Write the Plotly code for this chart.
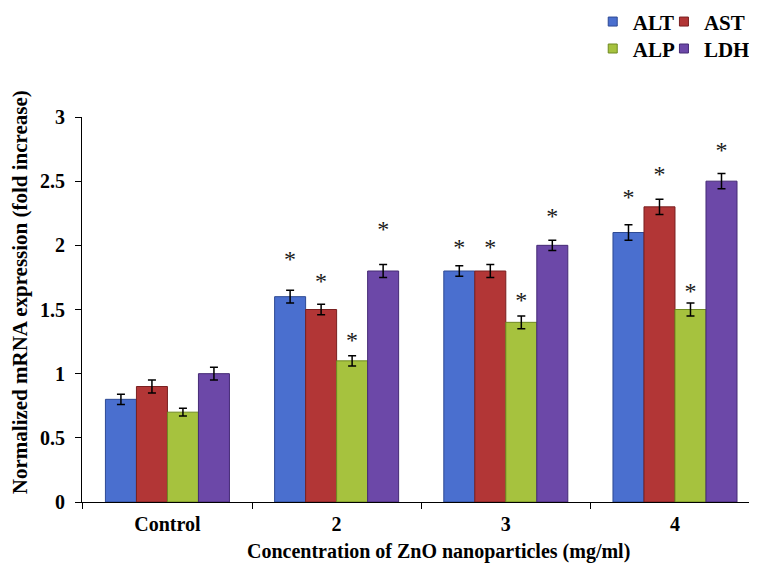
import plotly.graph_objects as go

categories = ["Control", "2", "3", "4"]
series_names = ["ALT", "AST", "ALP", "LDH"]
values = {
    "ALT": [0.8, 1.6, 1.8, 2.1],
    "AST": [0.9, 1.5, 1.8, 2.3],
    "ALP": [0.7, 1.1, 1.4, 1.5],
    "LDH": [1.0, 1.8, 2.0, 2.5],
}
errors = {
    "ALT": [0.04, 0.05, 0.04, 0.06],
    "AST": [0.05, 0.04, 0.05, 0.06],
    "ALP": [0.03, 0.04, 0.05, 0.05],
    "LDH": [0.05, 0.05, 0.04, 0.06],
}
# significance marker levels (None = no marker)
star_levels = {
    "ALT": [None, 1.88, 1.97, 2.36],
    "AST": [None, 1.71, 1.97, 2.54],
    "ALP": [None, 1.25, 1.56, 1.63],
    "LDH": [None, 2.11, 2.21, 2.73],
}
y_ticks = [0, 0.5, 1, 1.5, 2, 2.5, 3]
y_tick_labels = ["0", "0.5", "1", "1.5", "2", "2.5", "3"]
x_title = "Concentration of ZnO nanoparticles (mg/ml)"
y_title = "Normalized mRNA expression (fold increase)"

fill_colors = {"ALT": "#4a6fcf", "AST": "#b23636", "ALP": "#a6c23e", "LDH": "#6c48a8"}
edge_colors = {"ALT": "#2e4a94", "AST": "#7a2020", "ALP": "#6f8a22", "LDH": "#452a75"}

FONT = "Liberation Serif"

fig = go.Figure()
legend_ids = {"ALT": "legend", "AST": "legend2", "ALP": "legend3", "LDH": "legend4"}
for name in series_names:
    fig.add_trace(go.Bar(
        x=categories, y=values[name], name=name, offsetgroup=name,
        marker=dict(color=fill_colors[name], line=dict(color=edge_colors[name], width=1)),
        error_y=dict(type="data", array=errors[name], color="black", thickness=1.5, width=4),
        showlegend=False,
    ))
for name in series_names:
    fig.add_trace(go.Scatter(
        x=categories, y=star_levels[name], mode="text", text=["*"] * 4,
        offsetgroup=name, showlegend=False, hoverinfo="skip",
        textfont=dict(family=FONT, size=24, color="#1a1a1a"),
        cliponaxis=False,
    ))
# legend entries (small square swatches)
for name in series_names:
    fig.add_trace(go.Scatter(
        x=[None], y=[None], mode="markers", name=name,
        marker=dict(symbol="square", size=9, color=fill_colors[name],
                    line=dict(color=edge_colors[name], width=1)),
        legend=legend_ids[name], showlegend=True,
    ))

def legend_box(x, y):
    return dict(orientation="h", x=x, xanchor="left", y=y, yanchor="middle",
                font=dict(family=FONT, size=21, color="black", weight="bold"),
                itemwidth=30, bgcolor="rgba(0,0,0,0)")

fig.update_layout(
    width=749, height=558,
    paper_bgcolor="white", plot_bgcolor="white",
    barmode="group", bargap=0.267, bargroupgap=0,
    scattermode="group", scattergap=0.267,
    margin=dict(l=74, r=3, t=109, b=64, autoexpand=False),
    font=dict(family=FONT, size=20, color="black"),
    legend=legend_box(0.760, 1.247),
    legend2=legend_box(0.866, 1.247),
    legend3=legend_box(0.760, 1.177),
    legend4=legend_box(0.866, 1.177),
    annotations=[
        dict(text="<b>" + x_title + "</b>", xref="paper", yref="paper",
             x=0.530, y=0, xanchor="center", yanchor="middle", yshift=-49,
             showarrow=False, font=dict(family=FONT, size=20, color="black")),
        dict(text="<b>" + y_title + "</b>", xref="paper", yref="paper",
             x=0, y=0.545, xanchor="center", yanchor="middle", xshift=-62,
             textangle=-90, showarrow=False,
             font=dict(family=FONT, size=21, color="black")),
    ],
)
fig.update_xaxes(
    range=[-0.505, 3.467],
    showline=True, linecolor="black", linewidth=1,
    ticks="outside", ticklen=6, tickcolor="black", tickson="boundaries",
    ticklabelstandoff=4,
    tickfont=dict(family=FONT, size=20, weight="bold"),
    showgrid=False,
)
fig.update_yaxes(
    range=[0, 3], tickvals=y_ticks, ticktext=y_tick_labels,
    showline=True, linecolor="black", linewidth=1,
    ticks="outside", ticklen=6, tickcolor="black",
    ticklabelstandoff=6,
    tickfont=dict(family=FONT, size=20, weight="bold"),
    showgrid=False, zeroline=False,
)

fig.write_html("out.html")
